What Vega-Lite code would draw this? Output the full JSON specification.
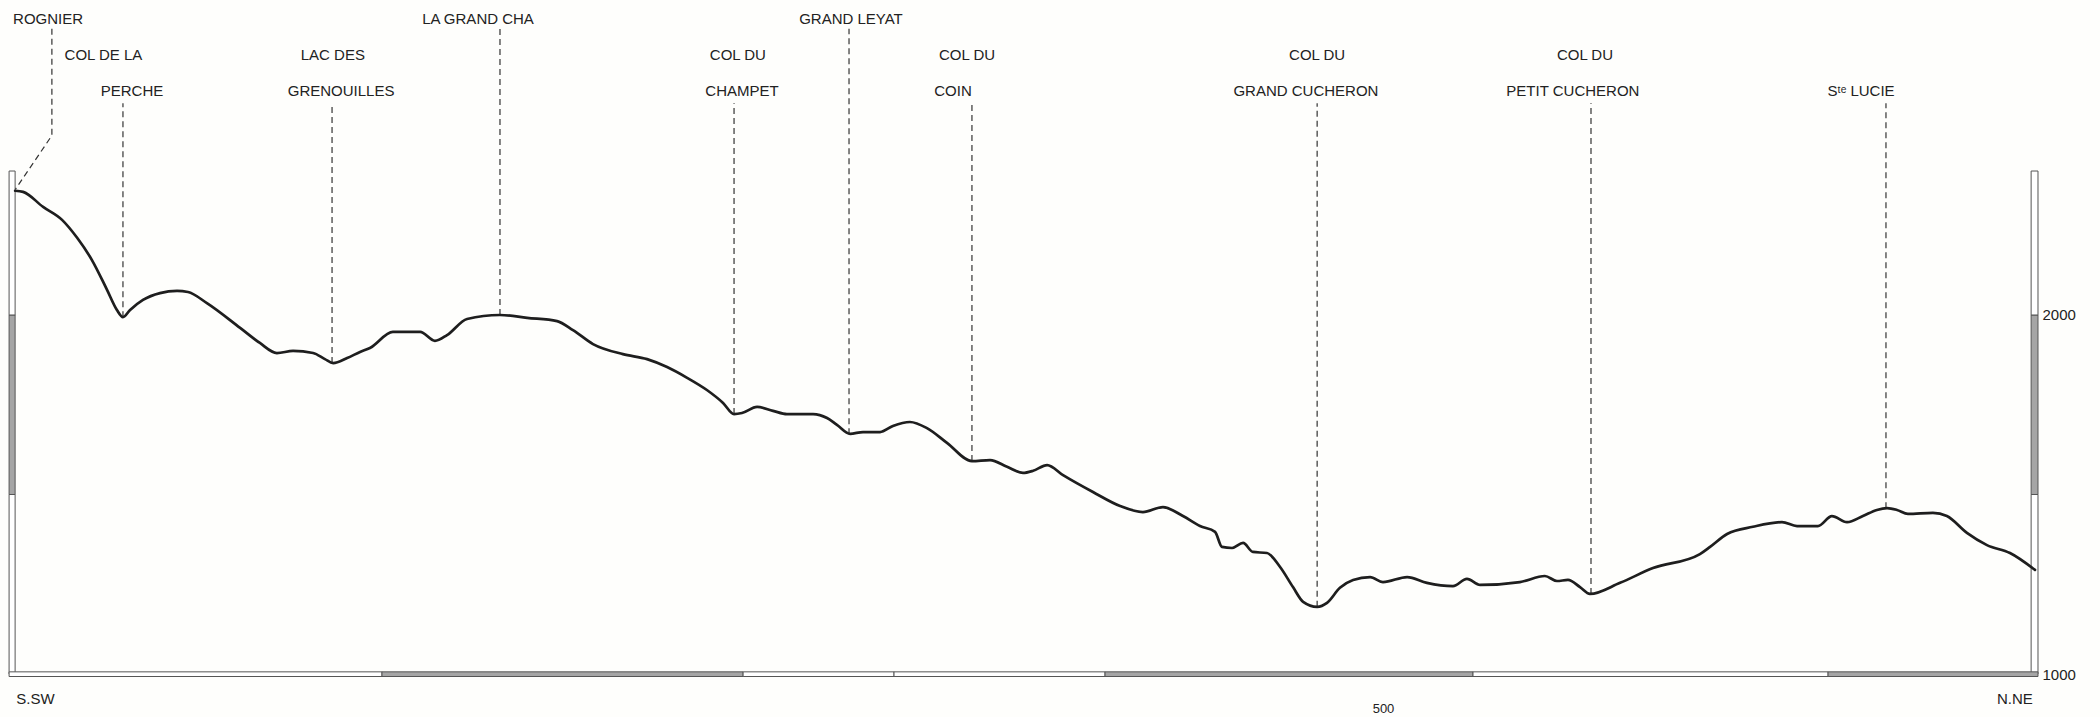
{
  "$schema": "https://vega.github.io/schema/vega-lite/v6.json",
  "width": 2035,
  "height": 674,
  "autosize": "none",
  "padding": {"left": 0, "top": 0, "right": 65, "bottom": 43},
  "background": "#fefefc",
  "config": {
    "view": {"stroke": null},
    "text": {"font": "Liberation Sans", "fontSize": 15, "color": "#222222"}
  },
  "datasets": {
    "profile": [
      {"dist": 1.5, "elev": 2346}, {"dist": 4.4, "elev": 2343}, {"dist": 11.7, "elev": 2301}, {"dist": 18.6, "elev": 2265},
      {"dist": 24.1, "elev": 2215}, {"dist": 29.5, "elev": 2153}, {"dist": 35.0, "elev": 2070}, {"dist": 38.6, "elev": 2014},
      {"dist": 40.8, "elev": 1994}, {"dist": 43.4, "elev": 2014}, {"dist": 48.1, "elev": 2042}, {"dist": 54.3, "elev": 2061},
      {"dist": 60.5, "elev": 2067}, {"dist": 64.5, "elev": 2064}, {"dist": 71.4, "elev": 2033}, {"dist": 83.5, "elev": 1964},
      {"dist": 90.7, "elev": 1922}, {"dist": 96.9, "elev": 1894}, {"dist": 102.8, "elev": 1900}, {"dist": 110.1, "elev": 1894},
      {"dist": 114.4, "elev": 1877}, {"dist": 117.4, "elev": 1866}, {"dist": 122.5, "elev": 1880}, {"dist": 127.2, "elev": 1897},
      {"dist": 130.8, "elev": 1908}, {"dist": 139.2, "elev": 1953}, {"dist": 149.1, "elev": 1953}, {"dist": 154.5, "elev": 1928},
      {"dist": 158.9, "elev": 1944}, {"dist": 166.2, "elev": 1989}, {"dist": 178.2, "elev": 2000}, {"dist": 188.1, "elev": 1992},
      {"dist": 199.0, "elev": 1983}, {"dist": 204.8, "elev": 1958}, {"dist": 212.1, "elev": 1919}, {"dist": 223.0, "elev": 1891},
      {"dist": 231.8, "elev": 1877}, {"dist": 239.1, "elev": 1855}, {"dist": 246.4, "elev": 1825}, {"dist": 253.6, "elev": 1791},
      {"dist": 259.5, "elev": 1755}, {"dist": 263.5, "elev": 1724}, {"dist": 266.4, "elev": 1727}, {"dist": 271.9, "elev": 1744},
      {"dist": 277.7, "elev": 1733}, {"dist": 282.8, "elev": 1724}, {"dist": 292.3, "elev": 1724}, {"dist": 297.4, "elev": 1713},
      {"dist": 301.0, "elev": 1694}, {"dist": 305.8, "elev": 1669}, {"dist": 310.5, "elev": 1674}, {"dist": 316.7, "elev": 1674},
      {"dist": 321.4, "elev": 1691}, {"dist": 327.6, "elev": 1702}, {"dist": 333.8, "elev": 1685}, {"dist": 341.1, "elev": 1644},
      {"dist": 350.2, "elev": 1593}, {"dist": 356.8, "elev": 1596}, {"dist": 363.0, "elev": 1577}, {"dist": 368.8, "elev": 1560},
      {"dist": 372.5, "elev": 1566}, {"dist": 377.6, "elev": 1582}, {"dist": 383.4, "elev": 1554}, {"dist": 394.3, "elev": 1507},
      {"dist": 404.2, "elev": 1468}, {"dist": 412.5, "elev": 1451}, {"dist": 419.8, "elev": 1465}, {"dist": 427.1, "elev": 1440},
      {"dist": 433.3, "elev": 1412}, {"dist": 438.8, "elev": 1396}, {"dist": 441.3, "elev": 1354}, {"dist": 445.0, "elev": 1351},
      {"dist": 449.0, "elev": 1365}, {"dist": 452.6, "elev": 1340}, {"dist": 457.7, "elev": 1337}, {"dist": 462.5, "elev": 1298},
      {"dist": 467.2, "elev": 1242}, {"dist": 470.9, "elev": 1201}, {"dist": 476.0, "elev": 1187}, {"dist": 479.6, "elev": 1198},
      {"dist": 484.3, "elev": 1240}, {"dist": 489.1, "elev": 1262}, {"dist": 495.3, "elev": 1270}, {"dist": 500.0, "elev": 1256},
      {"dist": 508.8, "elev": 1270}, {"dist": 516.0, "elev": 1254}, {"dist": 525.5, "elev": 1245}, {"dist": 530.6, "elev": 1265},
      {"dist": 535.4, "elev": 1248}, {"dist": 549.9, "elev": 1256}, {"dist": 559.0, "elev": 1273}, {"dist": 563.4, "elev": 1259},
      {"dist": 567.4, "elev": 1262}, {"dist": 571.8, "elev": 1242}, {"dist": 575.4, "elev": 1223}, {"dist": 586.4, "elev": 1254},
      {"dist": 598.4, "elev": 1295}, {"dist": 615.5, "elev": 1334}, {"dist": 619.2, "elev": 1354}, {"dist": 625.4, "elev": 1390},
      {"dist": 634.8, "elev": 1410}, {"dist": 645.4, "elev": 1423}, {"dist": 650.9, "elev": 1412}, {"dist": 658.5, "elev": 1412},
      {"dist": 663.6, "elev": 1440}, {"dist": 669.1, "elev": 1423}, {"dist": 674.9, "elev": 1440}, {"dist": 680.0, "elev": 1457},
      {"dist": 683.7, "elev": 1462}, {"dist": 687.3, "elev": 1457}, {"dist": 691.3, "elev": 1446}, {"dist": 700.4, "elev": 1449},
      {"dist": 705.5, "elev": 1440}, {"dist": 712.8, "elev": 1393}, {"dist": 720.1, "elev": 1359}, {"dist": 728.5, "elev": 1337},
      {"dist": 737.6, "elev": 1290}
    ],
    "places": [
      {"place": "Col de la Perche", "dist": 40.8, "elev": 1994, "tier": "low"},
      {"place": "Lac des Grenouilles", "dist": 117.0, "elev": 1866, "tier": "low"},
      {"place": "La Grand Cha", "dist": 178.2, "elev": 2000, "tier": "high"},
      {"place": "Col du Champet", "dist": 263.5, "elev": 1724, "tier": "low"},
      {"place": "Grand Leyat", "dist": 305.4, "elev": 1668, "tier": "high"},
      {"place": "Col du Coin", "dist": 350.2, "elev": 1593, "tier": "low"},
      {"place": "Col du Grand Cucheron", "dist": 476.0, "elev": 1187, "tier": "low"},
      {"place": "Col du Petit Cucheron", "dist": 575.8, "elev": 1223, "tier": "low"},
      {"place": "Ste Lucie", "dist": 683.3, "elev": 1462, "tier": "low"}
    ],
    "rognier": [
      {"dist": 14.9, "elev": 2797},
      {"dist": 14.9, "elev": 2500},
      {"dist": 1.6, "elev": 2350}
    ],
    "labels": [
      {"text": "ROGNIER", "dist": 13.5, "line": "top"},
      {"text": "LA GRAND   CHA", "dist": 170.2, "line": "top"},
      {"text": "GRAND  LEYAT", "dist": 306.1, "line": "top"},
      {"text": "COL DE  LA", "dist": 33.7, "line": "mid"},
      {"text": "LAC DES", "dist": 117.3, "line": "mid"},
      {"text": "COL  DU", "dist": 264.9, "line": "mid"},
      {"text": "COL  DU", "dist": 348.4, "line": "mid"},
      {"text": "COL DU", "dist": 476.0, "line": "mid"},
      {"text": "COL  DU", "dist": 573.6, "line": "mid"},
      {"text": "PERCHE", "dist": 44.1, "line": "low"},
      {"text": "GRENOUILLES", "dist": 120.3, "line": "low"},
      {"text": "CHAMPET", "dist": 266.4, "line": "low"},
      {"text": "COIN", "dist": 343.3, "line": "low"},
      {"text": "GRAND CUCHERON", "dist": 471.9, "line": "low"},
      {"text": "PETIT  CUCHERON", "dist": 569.2, "line": "low"},
      {"text": "Sᵗᵉ LUCIE", "dist": 674.2, "line": "low"},
      {"text": "S.SW", "dist": 8.9, "line": "bottom"},
      {"text": "N.NE", "dist": 730.3, "line": "bottom"}
    ],
    "vbar": [
      {"side": "left", "left": -0.7, "right": 1.5, "from": 1000, "to": 1500, "kind": "light"},
      {"side": "left", "left": -0.7, "right": 1.5, "from": 1500, "to": 2000, "kind": "dark"},
      {"side": "left", "left": -0.7, "right": 1.5, "from": 2000, "to": 2401, "kind": "light"},
      {"side": "right", "left": 736.2, "right": 738.7, "from": 1000, "to": 1500, "kind": "light"},
      {"side": "right", "left": 736.2, "right": 738.7, "from": 1500, "to": 2000, "kind": "dark"},
      {"side": "right", "left": 736.2, "right": 738.7, "from": 2000, "to": 2401, "kind": "light"}
    ],
    "hbar": [
      {"from": -0.7, "to": 135.2, "low": 993, "high": 1006, "kind": "light"},
      {"from": 135.2, "to": 266.8, "low": 993, "high": 1006, "kind": "dark"},
      {"from": 266.8, "to": 321.8, "low": 993, "high": 1006, "kind": "light"},
      {"from": 321.8, "to": 398.7, "low": 993, "high": 1006, "kind": "light"},
      {"from": 398.7, "to": 532.8, "low": 993, "high": 1006, "kind": "dark"},
      {"from": 532.8, "to": 662.2, "low": 993, "high": 1006, "kind": "light"},
      {"from": 662.2, "to": 738.7, "low": 993, "high": 1006, "kind": "dark"}
    ]
  },
  "layer": [
    {
      "data": {"name": "vbar"},
      "mark": {"type": "rect", "stroke": "#555", "strokeWidth": 1},
      "encoding": {
        "x": {"field": "left", "type": "quantitative"},
        "x2": {"field": "right"},
        "y": {"field": "from", "type": "quantitative"},
        "y2": {"field": "to"},
        "fill": {"field": "kind", "type": "nominal", "scale": {"domain": ["light", "dark"], "range": ["#ffffff", "#a5a5a5"]}, "legend": null}
      }
    },
    {
      "data": {"name": "hbar"},
      "mark": {"type": "rect", "stroke": "#555", "strokeWidth": 1},
      "encoding": {
        "x": {"field": "from", "type": "quantitative"},
        "x2": {"field": "to"},
        "y": {"field": "low", "type": "quantitative"},
        "y2": {"field": "high"},
        "fill": {"field": "kind", "type": "nominal", "legend": null}
      }
    },
    {
      "data": {"name": "places"},
      "transform": [{"filter": "datum.tier == 'high'"}],
      "mark": {"type": "rule", "stroke": "#333", "strokeWidth": 1.2, "strokeDash": [6, 4]},
      "encoding": {
        "x": {"field": "dist", "type": "quantitative"},
        "y": {"field": "elev", "type": "quantitative"},
        "y2": {"datum": 2797}
      }
    },
    {
      "data": {"name": "places"},
      "transform": [{"filter": "datum.tier == 'low'"}],
      "mark": {"type": "rule", "stroke": "#333", "strokeWidth": 1.2, "strokeDash": [6, 4]},
      "encoding": {
        "x": {"field": "dist", "type": "quantitative"},
        "y": {"field": "elev", "type": "quantitative"},
        "y2": {"datum": 2590}
      }
    },
    {
      "data": {"name": "rognier"},
      "mark": {"type": "line", "stroke": "#333", "strokeWidth": 1.2, "strokeDash": [6, 4]},
      "encoding": {
        "x": {"field": "dist", "type": "quantitative"},
        "y": {"field": "elev", "type": "quantitative"},
        "order": {"field": "elev", "type": "quantitative", "sort": "descending"}
      }
    },
    {
      "data": {"name": "profile"},
      "mark": {"type": "line", "stroke": "#1e1e1e", "strokeWidth": 2.7, "interpolate": "monotone", "strokeJoin": "round", "strokeCap": "round"},
      "encoding": {
        "x": {"field": "dist", "type": "quantitative", "scale": {"domain": [-4.009, 737.61], "nice": false, "zero": false}, "axis": {"values": [500], "format": "d", "title": null, "domain": false, "ticks": false, "tickSize": 0, "grid": false, "labelPadding": 28, "labelFont": "Liberation Sans", "labelFontSize": 13, "labelColor": "#222222"}},
        "y": {"field": "elev", "type": "quantitative", "scale": {"domain": [1000, 2877.4], "nice": false, "zero": false}, "axis": {"orient": "right", "values": [1000, 2000], "format": "d", "title": null, "domain": false, "ticks": false, "tickSize": 0, "grid": false, "labelPadding": 7, "labelFont": "Liberation Sans", "labelFontSize": 15, "labelColor": "#222222", "labelBaseline": "middle"}}
      }
    },
    {
      "data": {"name": "labels"},
      "transform": [{"filter": "datum.line == 'top'"}],
      "mark": {"type": "text", "align": "center", "baseline": "middle"},
      "encoding": {
        "x": {"field": "dist", "type": "quantitative"},
        "y": {"datum": 2824.5, "type": "quantitative"},
        "text": {"field": "text"}
      }
    },
    {
      "data": {"name": "labels"},
      "transform": [{"filter": "datum.line == 'mid'"}],
      "mark": {"type": "text", "align": "center", "baseline": "middle"},
      "encoding": {
        "x": {"field": "dist", "type": "quantitative"},
        "y": {"datum": 2724, "type": "quantitative"},
        "text": {"field": "text"}
      }
    },
    {
      "data": {"name": "labels"},
      "transform": [{"filter": "datum.line == 'low'"}],
      "mark": {"type": "text", "align": "center", "baseline": "middle"},
      "encoding": {
        "x": {"field": "dist", "type": "quantitative"},
        "y": {"datum": 2624, "type": "quantitative"},
        "text": {"field": "text"}
      }
    },
    {
      "data": {"name": "labels"},
      "transform": [{"filter": "datum.line == 'bottom'"}],
      "mark": {"type": "text", "align": "center", "baseline": "middle"},
      "encoding": {
        "x": {"field": "dist", "type": "quantitative"},
        "y": {"datum": 930, "type": "quantitative"},
        "text": {"field": "text"}
      }
    }
  ]
}
